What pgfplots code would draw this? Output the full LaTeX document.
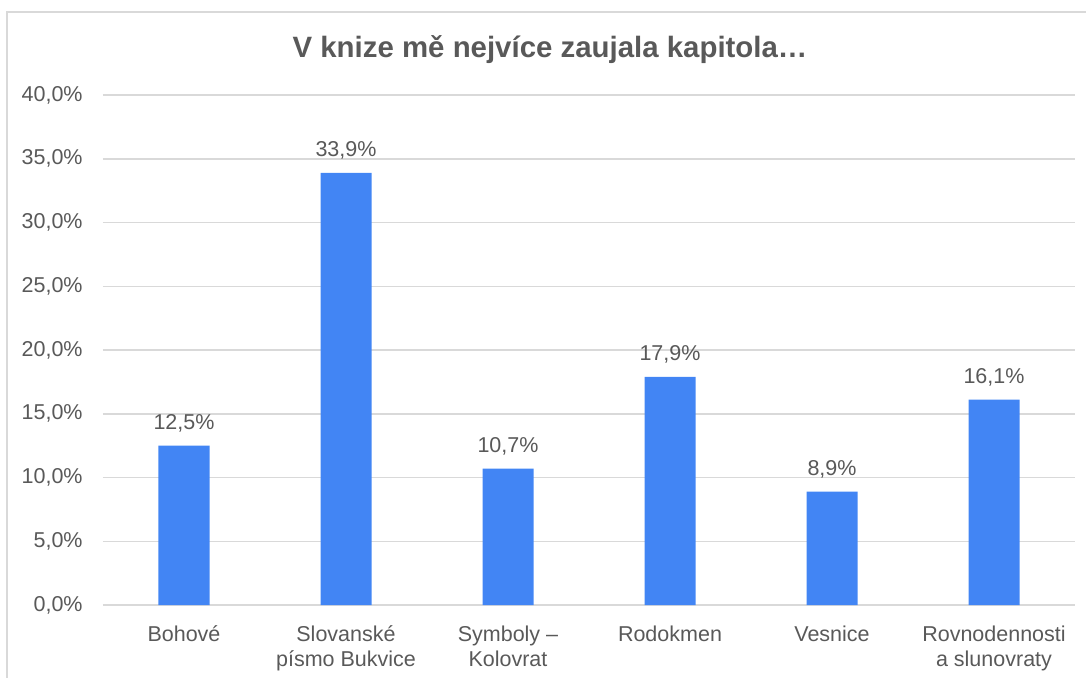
\documentclass[border=0pt]{standalone}
\usepackage{fontspec}
\setmainfont{Liberation Sans}
\usepackage{pgfplots}
\pgfplotsset{compat=1.18}
\definecolor{barblue}{HTML}{4285F4}
\definecolor{txt}{HTML}{595959}
\definecolor{gridc}{HTML}{D9D9D9}
\begin{document}
\begin{tikzpicture}
\useasboundingbox (-51.5pt,-36pt) rectangle (491.5pt,302.5pt);
\draw[gridc, line width=0.8pt] (-48pt,-40pt) -- (-48pt,296.5pt) -- (495pt,296.5pt);
\begin{axis}[
  at={(0,0)}, anchor=south west,
  scale only axis, width=486pt, height=255pt,
  ybar, bar width=25.5pt,
  xmin=-0.5, xmax=5.5, ymin=0, ymax=40,
  ytick={0,5,...,40},
  xtick=data,
  xticklabels={Bohové, {Slovanské\\písmo Bukvice}, {Symboly –\\Kolovrat}, Rodokmen, Vesnice, {Rovnodennosti\\a slunovraty}},
  axis line style={draw=none},
  tick style={draw=none},
  ymajorgrids, grid style={gridc, line width=0.75pt},
  yticklabel={\pgfmathprintnumber[assume math mode=true,fixed,fixed zerofill,precision=1,use comma]{\tick}\%},
  y tick label style={font=\fontsize{10.75}{12.5}\selectfont, text=txt, inner sep=0pt, xshift=-10pt},
  x tick label style={font=\fontsize{10.75}{12.5}\selectfont, text=txt, align=center, inner sep=0pt, anchor=north, yshift=-6pt},
  nodes near coords={\pgfmathprintnumber[assume math mode=true,fixed,fixed zerofill,precision=1,use comma]{\pgfplotspointmeta}\%},
  nodes near coords style={font=\fontsize{10.75}{12.5}\selectfont, text=txt, inner sep=0pt, anchor=south, yshift=6.5pt},
]
\addplot[fill=barblue, draw=none] coordinates {(0,12.5) (1,33.9) (2,10.7) (3,17.9) (4,8.9) (5,16.1)};
\end{axis}
\node[font=\bfseries\fontsize{14.7}{17}\selectfont, text=txt] at (223.5pt,277.5pt) {V knize mě nejvíce zaujala kapitola…};
\end{tikzpicture}
\end{document}
